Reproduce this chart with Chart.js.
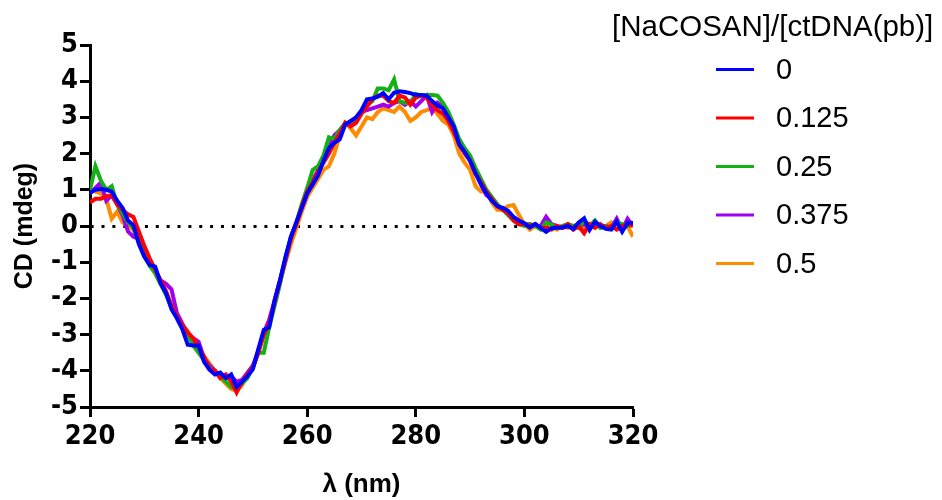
<!DOCTYPE html>
<html>
<head>
<meta charset="utf-8">
<script src="https://cdn.jsdelivr.net/npm/chart.js@4.4.0/dist/chart.umd.min.js"></script>
<style>
html,body{margin:0;padding:0;background:#fff;}
#wrap{width:942px;height:500px;position:relative;}
</style>
</head>
<body>
<div id="wrap"><canvas id="c" width="942" height="500"></canvas></div>
<script>
const wavelengths = [
220,221,222,223,224,225,226,227,228,229,
230,231,232,233,234,235,236,237,238,239,
240,241,242,243,244,245,246,247,248,249,
250,251,252,253,254,255,256,257,258,259,
260,261,262,263,264,265,266,267,268,269,
270,271,272,273,274,275,276,277,278,279,
280,281,282,283,284,285,286,287,288,289,
290,291,292,293,294,295,296,297,298,299,
300,301,302,303,304,305,306,307,308,309,
310,311,312,313,314,315,316,317,318,319,320];

const seriesNames = ["0", "0.125", "0.25", "0.375", "0.5"];
const legendTitle = "[NaCOSAN]/[ctDNA(pb)]";
const xTitle = "\u03BB (nm)";
const yTitle = "CD (mdeg)";
const xTickValues = [220, 240, 260, 280, 300, 320];
const yTickValues = [-5, -4, -3, -2, -1, 0, 1, 2, 3, 4, 5];

const cd_0 = [
0.92, 1.0, 1.02, 1.0, 0.95, 0.7, 0.5, 0.15, 0.02, -0.5,
-0.85, -1.08, -1.12, -1.58, -1.85, -2.3, -2.55, -2.85, -3.28, -3.3,
-3.3, -3.75, -3.97, -4.1, -4.05, -4.2, -4.1, -4.45, -4.3, -4.15,
-3.95, -3.4, -2.87, -2.8, -2.05, -1.5, -0.85, -0.3, 0.1, 0.5,
0.9, 1.15, 1.4, 1.8, 2.15, 2.3, 2.4, 2.8, 2.9, 3.0,
3.2, 3.5, 3.52, 3.57, 3.67, 3.5, 3.68, 3.72, 3.7, 3.67,
3.62, 3.62, 3.6, 3.45, 3.33, 3.25, 3.0, 2.75, 2.25, 2.05,
1.8, 1.45, 1.15, 0.9, 0.7, 0.55, 0.5, 0.42, 0.25, 0.15,
0.08, -0.04, 0.06, -0.05, -0.16, -0.06, -0.05, -0.04, 0.0, -0.08,
0.1, 0.21, -0.11, 0.12, 0.0, -0.08, -0.1, 0.12, -0.16, 0.09, 0.08];

const cd_0125 = [
0.65, 0.75, 0.75, 0.82, 0.85, 0.6, 0.45, 0.32, 0.25, -0.15,
-0.55, -0.9, -1.2, -1.5, -1.8, -2.2, -2.5, -2.75, -2.95, -3.1,
-3.35, -3.6, -3.95, -4.0, -4.2, -4.1, -4.3, -4.6, -4.3, -4.1,
-3.9, -3.5, -3.0, -2.7, -2.1, -1.5, -0.9, -0.35, 0.05, 0.55,
0.95, 1.2, 1.5, 1.75, 2.0, 2.3, 2.55, 2.85, 2.75, 2.85,
3.1, 3.3, 3.5, 3.6, 3.6, 3.45, 3.4, 3.6, 3.55, 3.35,
3.55, 3.6, 3.55, 3.35, 3.2, 3.1, 2.9, 2.6, 2.25, 2.0,
1.8, 1.45, 1.2, 0.95, 0.75, 0.55, 0.45, 0.35, 0.15, 0.05,
0.05, 0.0, 0.05, -0.05, -0.05, -0.1, 0.0, -0.05, 0.05, -0.1,
0.0, -0.2, 0.05, -0.05, 0.05, -0.05, 0.0, -0.1, 0.0, 0.05, 0.0];

const cd_025 = [
1.0, 1.65, 1.25, 1.0, 1.1, 0.6, 0.35, 0.1, -0.05, -0.45,
-0.8, -1.1, -1.3, -1.6, -1.9, -2.25, -2.5, -2.8, -3.0, -3.3,
-3.5, -3.7, -3.9, -4.05, -4.15, -4.3, -4.45, -4.5, -4.35, -4.2,
-3.9, -3.5, -3.5, -2.8, -2.2, -1.6, -0.9, -0.3, 0.1, 0.6,
1.05, 1.55, 1.65, 1.95, 2.45, 2.4, 2.65, 2.85, 2.8, 2.95,
3.15, 3.35, 3.45, 3.8, 3.8, 3.75, 4.05, 3.45, 3.4, 3.4,
3.65, 3.6, 3.62, 3.62, 3.6, 3.4, 3.15, 2.8, 2.4, 2.15,
1.95, 1.6, 1.3, 1.0, 0.8, 0.6, 0.45, 0.3, 0.15, 0.05,
0.0, 0.05, 0.0, -0.1, 0.1, 0.05, -0.05, 0.0, 0.05, 0.0,
-0.05, 0.15, 0.0, 0.15, -0.05, 0.0, -0.05, 0.1, 0.05, 0.0, 0.05];

const cd_0375 = [
0.9, 1.05, 1.2, 0.7, 0.85, 0.6, 0.3, -0.15, -0.3, -0.35,
-0.65, -0.95, -1.25, -1.5, -1.6, -1.75, -2.4, -2.7, -2.95, -3.1,
-3.2, -3.65, -3.85, -4.0, -4.15, -4.2, -4.15, -4.3, -4.25, -4.05,
-3.85, -3.45, -2.95, -2.6, -2.05, -1.5, -0.95, -0.3, 0.1, 0.5,
0.9, 1.25, 1.55, 1.85, 2.15, 2.5, 2.65, 2.8, 2.85, 3.0,
3.15, 3.2, 3.25, 3.3, 3.35, 3.3, 3.4, 3.45, 3.35, 3.45,
3.3, 3.45, 3.6, 3.15, 3.4, 3.3, 3.0, 2.7, 2.3, 2.05,
1.85, 1.5, 1.15, 0.85, 0.75, 0.55, 0.45, 0.35, 0.2, 0.1,
0.05, 0.05, 0.0, 0.0, 0.25, 0.05, 0.0, -0.05, 0.0, -0.05,
0.0, 0.05, -0.05, 0.05, 0.0, 0.0, -0.05, 0.2, -0.1, 0.2, 0.0];

const cd_05 = [
1.0, 0.95, 0.9, 0.75, 0.2, 0.4, 0.1, 0.0, -0.1, -0.45,
-0.8, -1.05, -1.3, -1.6, -1.85, -2.2, -2.45, -2.75, -2.9, -3.15,
-3.4, -3.6, -3.8, -4.0, -4.2, -4.35, -4.5, -4.55, -4.4, -4.1,
-3.9, -3.5, -3.0, -2.6, -2.1, -1.55, -1.0, -0.5, -0.05, 0.4,
0.8, 1.05, 1.3, 1.55, 1.65, 2.0, 2.5, 2.85, 2.7, 2.5,
2.75, 3.0, 2.95, 3.15, 3.25, 3.2, 3.15, 3.3, 3.15, 2.9,
3.0, 3.15, 3.2, 3.25, 3.1, 2.9, 2.8, 2.5, 2.0, 1.75,
1.55, 1.1, 0.95, 0.95, 0.65, 0.45, 0.45, 0.55, 0.58, 0.3,
0.05, -0.1, 0.0, -0.05, 0.1, 0.0, -0.1, 0.0, -0.05, 0.0,
0.05, -0.05, 0.0, 0.05, -0.05, 0.0, 0.1, 0.0, -0.1, 0.0, -0.3];

const seriesValues = [cd_0, cd_0125, cd_025, cd_0375, cd_05];
const seriesColors = ["#0000FF", "#FF0000", "#13B113", "#A000F0", "#FF8C00"];

const FONT = "'Liberation Sans', Arial, Helvetica, sans-serif";
const NARROW = "'Liberation Sans Narrow', 'Arial Narrow', 'DejaVu Sans Condensed', sans-serif";

function pts(vals) {
  return wavelengths.map((w, i) => ({x: w, y: vals[i]}));
}

const datasets = seriesNames.map((name, k) => ({
  label: name,
  data: pts(seriesValues[k]),
  borderColor: seriesColors[k],
  backgroundColor: seriesColors[k],
  borderWidth: 4,
  pointRadius: 0,
  tension: 0,
  fill: false
}));

const legendPlugin = {
  id: 'sideLegend',
  afterDraw(chart) {
    const ctx = chart.ctx;
    ctx.save();
    ctx.fillStyle = '#000';
    ctx.font = '29.5px ' + FONT;
    ctx.textAlign = 'left';
    ctx.textBaseline = 'alphabetic';
    ctx.fillText(legendTitle, 612, 36);
    const y0 = 69.5, step = 48.5;
    chart.data.datasets.forEach((ds, i) => {
      const y = y0 + i * step;
      ctx.strokeStyle = ds.borderColor;
      ctx.lineWidth = 3;
      ctx.beginPath();
      ctx.moveTo(716, y);
      ctx.lineTo(754, y);
      ctx.stroke();
      ctx.fillStyle = '#000';
      ctx.textBaseline = 'middle';
      ctx.font = '29px ' + FONT;
      ctx.fillText(ds.label, 776, y + 1);
    });
    ctx.restore();
  }
};

new Chart(document.getElementById('c'), {
  type: 'line',
  data: { datasets },
  plugins: [legendPlugin],
  options: {
    responsive: false,
    animation: false,
    devicePixelRatio: 1,
    layout: { padding: { top: 45, right: 309, left: 0, bottom: 0 } },
    plugins: { legend: { display: false }, tooltip: { enabled: false } },
    scales: {
      x: {
        type: 'linear',
        min: 220, max: 320,
        afterFit(scale) { scale.height = 93; },
        afterBuildTicks(scale) { scale.ticks = xTickValues.map(v => ({value: v})); },
        ticks: { color: '#000', font: { family: NARROW, size: 27, weight: 'bold' }, padding: 4, maxRotation: 0 },
        grid: { drawOnChartArea: false, drawTicks: true, tickLength: 10, tickWidth: 3, tickColor: '#000' },
        border: { display: true, color: '#000', width: 3 },
        title: { display: true, text: xTitle, color: '#000', font: { family: FONT, size: 26, weight: 'bold' }, padding: { top: 4, bottom: 0 } }
      },
      y: {
        type: 'linear',
        min: -5, max: 5,
        afterFit(scale) { scale.width = 90; },
        afterBuildTicks(scale) { scale.ticks = yTickValues.map(v => ({value: v})); },
        ticks: { color: '#000', font: { family: NARROW, size: 27, weight: 'bold' }, padding: 2 },
        grid: {
          drawOnChartArea: true,
          color: (c) => (c.tick && c.tick.value === 0) ? '#000' : 'rgba(0,0,0,0)',
          lineWidth: 3,
          drawTicks: true, tickLength: 10, tickWidth: 3, tickColor: '#000'
        },
        border: { display: true, color: '#000', width: 3, dash: [3, 7.86], dashOffset: 1.36 },
        title: { display: true, text: yTitle, color: '#000', font: { family: FONT, size: 25, weight: 'bold' }, padding: { top: 10, bottom: 0 } }
      }
    }
  }
});
</script>
</body>
</html>
